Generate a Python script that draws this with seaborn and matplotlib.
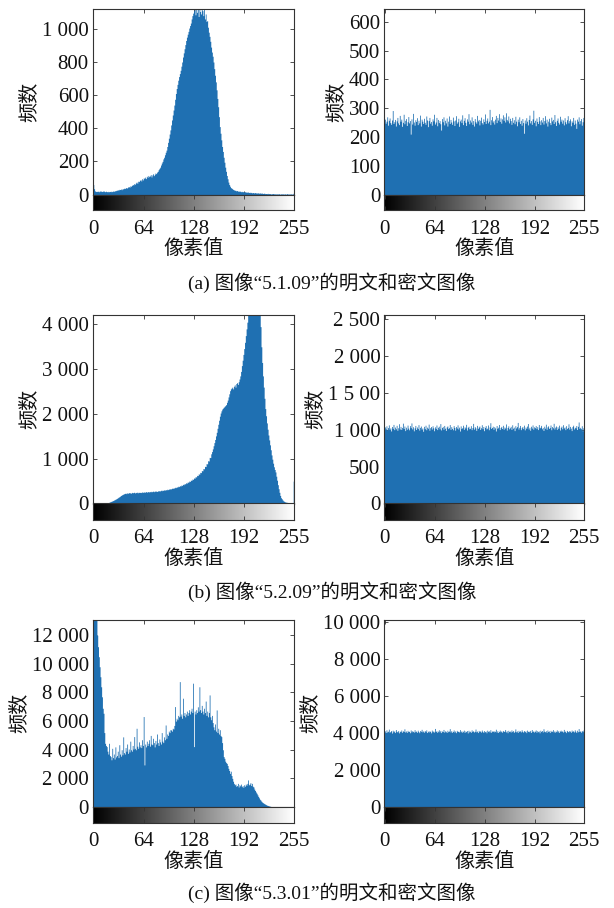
import numpy as np
import seaborn as sns
import matplotlib
matplotlib.use("Agg")
import matplotlib.pyplot as plt

# grey levels 0..255
levels = np.arange(256)

# 5.1.09 plain image histogram
plain_a = [
    60, 35, 22, 18, 20, 18, 20, 17, 22, 19,
    21, 18, 20, 22, 19, 17, 20, 18, 16, 19,
    17, 18, 20, 17, 19, 21, 19, 23, 22, 25,
    26, 28, 27, 31, 30, 33, 29, 35, 34, 38,
    36, 40, 42, 39, 45, 48, 44, 52, 50, 55,
    60, 58, 66, 62, 70, 75, 68, 80, 78, 85,
    90, 82, 95, 88, 100, 98, 105, 96, 110, 104,
    115, 108, 112, 120, 106, 118, 125, 114, 122, 130,
    126, 135, 140, 150, 158, 165, 178, 190, 200, 215,
    225, 240, 255, 268, 290, 315, 340, 365, 390, 420,
    450, 480, 510, 540, 575, 610, 640, 665, 690, 712,
    730, 750, 775, 800, 830, 855, 880, 905, 930, 950,
    968, 985, 1005, 1020, 1035, 1060, 1080, 1095, 1110, 1150,
    1085, 1160, 1100, 1140, 1075, 1170, 1105, 1090, 1150, 1110,
    1080, 1130, 1060, 1090, 1045, 1050, 1010, 980, 955, 925,
    890, 860, 835, 800, 760, 720, 680, 632, 580, 530,
    470, 410, 370, 330, 290, 260, 225, 195, 165, 140,
    115, 95, 75, 60, 50, 42, 38, 35, 30, 28,
    26, 25, 22, 24, 20, 22, 18, 21, 17, 19,
    16, 18, 15, 17, 14, 16, 13, 15, 12, 14,
    11, 13, 10, 12, 11, 9, 12, 10, 8, 11,
    9, 8, 10, 7, 9, 8, 6, 8, 7, 5,
    6, 5, 7, 4, 6, 5, 3, 5, 4, 6,
    4, 3, 5, 2, 4, 3, 5, 3, 2, 4,
    3, 5, 2, 3, 4, 2, 3, 6, 2, 3,
    2, 4, 3, 2, 3, 8,
]

# 5.1.09 cipher image histogram
cipher_a = [
    262, 248, 255, 270, 241, 258, 266, 250, 244, 259,
    292, 247, 253, 261, 238, 256, 268, 249, 243, 275,
    255, 262, 237, 251, 279, 246, 258, 264, 240, 253,
    271, 249, 257, 210, 263, 245, 282, 252, 241, 260,
    254, 267, 243, 258, 249, 276, 238, 262, 255, 247,
    265, 251, 244, 273, 259, 236, 257, 268, 248, 254,
    241, 263, 256, 279, 245, 252, 268, 239, 261, 250,
    257, 246, 224, 264, 253, 270, 242, 258, 249, 266,
    238, 255, 273, 247, 261, 252, 244, 269, 256, 240,
    259, 274, 248, 253, 265, 237, 256, 262, 250, 277,
    243, 258, 267, 251, 240, 263, 255, 281, 246, 259,
    252, 270, 244, 257, 238, 264, 253, 248, 275, 256,
    261, 242, 258, 269, 250, 245, 263, 254, 280, 247,
    258, 266, 249, 255, 296, 243, 260, 271, 252, 257,
    245, 262, 275, 250, 268, 259, 281, 254, 266, 248,
    263, 277, 258, 270, 252, 284, 261, 256, 273, 249,
    265, 257, 244, 268, 251, 260, 246, 272, 255, 239,
    262, 253, 270, 247, 258, 241, 264, 250, 213, 259,
    248, 267, 255, 242, 261, 276, 249, 257, 244, 263,
    293, 251, 258, 239, 266, 254, 247, 271, 256, 243,
    260, 252, 268, 245, 257, 274, 249, 262, 238, 255,
    265, 250, 243, 269, 256, 261, 247, 278, 253, 240,
    258, 266, 251, 245, 272, 255, 262, 248, 259, 242,
    267, 253, 246, 260, 274, 249, 257, 263, 239, 256,
    251, 268, 244, 259, 248, 230, 262, 255, 270, 246,
    257, 264, 241, 253, 268, 259,
]

# 5.2.09 plain image histogram
plain_b = [
    0, 0, 0, 0, 0, 0, 0, 0, 0, 0,
    0, 1, 1, 2, 3, 5, 8, 12, 16, 22,
    28, 35, 42, 50, 58, 66, 75, 85, 95, 105,
    115, 128, 140, 152, 165, 178, 190, 200, 210, 218,
    225, 232, 220, 238, 228, 245, 235, 240, 230, 248,
    238, 245, 252, 236, 248, 242, 255, 240, 250, 246,
    252, 244, 258, 248, 262, 250, 256, 266, 254, 260,
    268, 258, 264, 272, 260, 270, 276, 264, 280, 272,
    278, 268, 284, 276, 290, 280, 296, 286, 300, 292,
    305, 298, 312, 302, 318, 310, 325, 318, 334, 326,
    342, 336, 350, 345, 362, 355, 372, 366, 385, 378,
    398, 390, 412, 405, 428, 420, 445, 438, 462, 455,
    480, 474, 500, 494, 522, 516, 545, 540, 570, 566,
    598, 594, 628, 624, 660, 656, 695, 690, 735, 730,
    780, 775, 830, 825, 890, 885, 955, 950, 1030, 1025,
    1110, 1160, 1220, 1290, 1360, 1430, 1510, 1590, 1680, 1770,
    1860, 1950, 2020, 2070, 2110, 2130, 2150, 2170, 2190, 2210,
    2260, 2310, 2380, 2450, 2520, 2560, 2580, 2600, 2560, 2620,
    2650, 2600, 2680, 2700, 2660, 2720, 2780, 2850, 2950, 3080,
    3200, 3330, 3460, 3600, 3750, 3900, 4050, 4300, 4450, 4600,
    4700, 4800, 4850, 4900, 4950, 4900, 4850, 4800, 4750, 4650,
    4550, 4450, 4300, 3950, 3500, 3150, 2850, 2600, 2350, 2120,
    1960, 1800, 1660, 1530, 1420, 1310, 1200, 1085, 990, 900,
    820, 760, 705, 610, 520, 420, 330, 250, 180, 130,
    107, 80, 60, 48, 38, 32, 28, 25, 22, 20,
    18, 15, 14, 12, 10, 500,
]

# 5.2.09 cipher image histogram
cipher_b = [
    1040, 1012, 1055, 998, 1031, 1068, 1009, 1027, 985, 1046,
    1021, 1074, 1003, 1038, 1015, 1062, 994, 1029, 1083, 1011,
    1047, 1006, 1033, 1091, 1019, 1052, 990, 1036, 1008, 1065,
    1024, 1001, 1058, 1030, 1094, 1013, 1042, 987, 1027, 1060,
    1005, 1039, 1018, 1071, 997, 1034, 1052, 1010, 1026, 981,
    1048, 1016, 1063, 1002, 1037, 1022, 1078, 995, 1030, 1045,
    1011, 1056, 1028, 988, 1041, 1019, 1066, 1004, 1035, 1050,
    1014, 1085, 999, 1032, 1047, 1008, 1060, 1023, 992, 1039,
    1053, 1017, 1029, 1072, 1006, 1044, 1020, 1001, 1058, 1033,
    996, 1046, 1025, 1068, 1012, 1037, 984, 1054, 1018, 1030,
    1063, 1007, 1041, 1026, 1075, 998, 1035, 1049, 1015, 1022,
    1057, 1003, 1031, 1088, 1010, 1044, 1027, 993, 1061, 1020,
    1038, 1052, 1005, 1029, 1070, 1016, 1046, 989, 1034, 1058,
    1013, 1024, 1066, 1002, 1040, 1097, 1019, 1032, 1050, 1008,
    1043, 1027, 985, 1059, 1021, 1036, 1073, 1004, 1031, 1047,
    1018, 1062, 1009, 1039, 1025, 1080, 997, 1033, 1055, 1014,
    1028, 1048, 1006, 1069, 1022, 1037, 990, 1057, 1026, 1043,
    1101, 1011, 1034, 1060, 1003, 1029, 1046, 1017, 1064, 1000,
    1038, 1021, 1052, 1086, 1012, 1035, 995, 1049, 1024, 1067,
    1009, 1041, 1030, 1058, 1016, 1044, 1004, 1073, 1027, 1036,
    1061, 1015, 1033, 992, 1050, 1023, 1077, 1008, 1040, 1055,
    1019, 1031, 1066, 1002, 1045, 1028, 1089, 1011, 1037, 1053,
    1006, 1042, 1021, 1064, 998, 1035, 1051, 1014, 1070, 1026,
    1039, 1003, 1057, 1018, 1032, 1082, 1010, 1047, 1023, 990,
    1044, 1063, 1012, 1036, 1027, 1059, 1005, 1048, 1107, 1020,
    1034, 1015, 1056, 988, 1029, 945,
]

# 5.3.01 plain image histogram
plain_c = [
    16000, 15500, 14800, 13800, 13200, 12000, 11200, 10500, 9800, 9100,
    8400, 7700, 6900, 6550, 5200, 4450, 4300, 4220, 3900, 3700,
    4450, 3600, 3520, 3300, 4100, 3450, 3700, 3350, 4200, 3500,
    3600, 3900, 3450, 4350, 3700, 3550, 4000, 3650, 4900, 3800,
    3700, 4150, 3900, 4400, 3750, 4050, 3850, 4600, 4000, 3900,
    4300, 4050, 4920, 4100, 4000, 5500, 4250, 4100, 4550, 4200,
    4350, 4150, 4700, 4300, 6320, 2940, 4400, 4200, 4600, 4300,
    4450, 4700, 4250, 5000, 4400, 4350, 4800, 4500, 4200, 4650,
    4400, 5100, 4500, 4300, 4750, 4550, 4400, 5200, 4600, 4500,
    4900, 4700, 5730, 4800, 5100, 5000, 5300, 5200, 5400, 5385,
    5300, 5500, 5450, 5700, 7016, 6000, 6200, 6100, 6400, 6300,
    8760, 6350, 6500, 6200, 7600, 6400, 6600, 6300, 6500, 6700,
    6400, 6600, 6800, 6500, 6700, 6900, 6600, 8650, 4220, 6700,
    6500, 6800, 6600, 7000, 6700, 8400, 6800, 6600, 7100, 6700,
    6500, 6900, 6600, 7400, 6400, 6700, 6300, 6600, 7830, 6300,
    6100, 6400, 5900, 5600, 5400, 5800, 5300, 6780, 5200, 5500,
    5100, 5400, 5000, 4920, 4500, 4000, 3520, 3400, 3200, 3100,
    3050, 2900, 2700, 2550, 2350, 2500, 2200, 2000, 1800, 1650,
    1550, 1600, 1450, 1500, 1650, 1400, 1550, 1480, 1600, 1420,
    1500, 1380, 1550, 1450, 1600, 1520, 1650, 1890, 1550, 1600,
    1700, 1500, 1650, 1450, 1400, 1250, 1150, 1050, 960, 850,
    740, 640, 540, 480, 400, 340, 300, 260, 230, 190,
    160, 130, 110, 90, 70, 55, 40, 25, 15, 10,
    8, 5, 3, 2, 1, 0, 0, 0, 0, 0,
    0, 0, 0, 0, 0, 0, 0, 0, 0, 0,
    0, 0, 0, 0, 0, 0,
]

# 5.3.01 cipher image histogram
cipher_c = [
    4120, 4035, 4178, 4062, 4101, 4215, 4048, 4087, 4140, 4003,
    4156, 4072, 4118, 4029, 4193, 4095, 4061, 4134, 4012, 4107,
    4079, 4168, 4044, 4125, 4090, 4231, 4058, 4113, 4037, 4149,
    4082, 4102, 4020, 4171, 4066, 4129, 4094, 4052, 4187, 4076,
    4110, 4041, 4158, 4085, 4023, 4136, 4098, 4204, 4069, 4117,
    4047, 4142, 4081, 4175, 4031, 4106, 4060, 4127, 4093, 4014,
    4163, 4074, 4119, 4055, 4252, 4088, 4130, 4039, 4104, 4181,
    4067, 4145, 4027, 4112, 4083, 4198, 4050, 4121, 4097, 4034,
    4154, 4078, 4109, 4241, 4063, 4133, 4042, 4091, 4170, 4057,
    4116, 4025, 4148, 4086, 4105, 4064, 4189, 4073, 4124, 4046,
    4099, 4161, 4036, 4115, 4080, 4137, 4011, 4152, 4068, 4103,
    4043, 4176, 4089, 4128, 4058, 4097, 4220, 4071, 4111, 4030,
    4147, 4084, 4122, 4053, 4166, 4092, 4038, 4135, 4077, 4108,
    4019, 4159, 4096, 4126, 4061, 4184, 4045, 4114, 4087, 4139,
    4070, 4101, 4210, 4056, 4131, 4033, 4093, 4164, 4075, 4118,
    4049, 4143, 4085, 4106, 4196, 4066, 4123, 4021, 4153, 4090,
    4110, 4059, 4173, 4082, 4135, 4040, 4098, 4226, 4072, 4116,
    4034, 4150, 4088, 4127, 4063, 4181, 4097, 4052, 4138, 4079,
    4119, 4026, 4162, 4094, 4108, 4068, 4145, 4037, 4192, 4084,
    4125, 4056, 4101, 4171, 4045, 4132, 4078, 4113, 4016, 4157,
    4089, 4140, 4060, 4235, 4103, 4074, 4128, 4041, 4167, 4092,
    4115, 4031, 4149, 4083, 4106, 4188, 4064, 4121, 4050, 4097,
    4174, 4071, 4134, 4039, 4110, 4158, 4087, 4124, 4057, 4201,
    4080, 4117, 4028, 4146, 4093, 4069, 4137, 4104, 4044, 4165,
    4086, 4129, 4062, 4178, 4100, 4035, 4155, 4076, 4246, 4091,
    4118, 4047, 4139, 4081, 4160, 4030,
]

# axis settings per panel
ymax_list = [1120, 645, 4210, 2560, 13100, 10150]
yticks_list = [
    [0, 200, 400, 600, 800, 1000],
    [0, 100, 200, 300, 400, 500, 600],
    [0, 1000, 2000, 3000, 4000],
    [0, 500, 1000, 1500, 2000, 2500],
    [0, 2000, 4000, 6000, 8000, 10000, 12000],
    [0, 2000, 4000, 6000, 8000, 10000],
]
ylabels_list = [
    ["0", "200", "400", "600", "800", "1 000"],
    ["0", "100", "200", "300", "400", "500", "600"],
    ["0", "1 000", "2 000", "3 000", "4 000"],
    ["0", "500", "1 000", "1 5 00", "2 000", "2 500"],
    ["0", "2 000", "4 000", "6 000", "8 000", "10 000", "12 000"],
    ["0", "2 000", "4 000", "6 000", "8 000", "10 000"],
]
xticks = [0, 64, 128, 192, 255]
captions = [
    "(a) 图像“5.1.09”的明文和密文图像",
    "(b) 图像“5.2.09”的明文和密文图像",
    "(c) 图像“5.3.01”的明文和密文图像",
]
series = [plain_a, cipher_a, plain_b, cipher_b, plain_c, cipher_c]
for s in series:
    assert len(s) == 256

sns.set_theme(style="white")
plt.rcParams['font.family'] = ['Liberation Serif', 'Noto Sans CJK SC', 'DejaVu Sans']
plt.rcParams['axes.edgecolor'] = '#333333'
plt.rcParams['axes.linewidth'] = 0.8

BLUE = "#1f70b2"
W, H = 614, 908
fig = plt.figure(figsize=(W / 100, H / 100), dpi=100)

col_x = [93, 384.5]
col_w = [201, 200]
rows = [(9, 194.5, 210), (315, 503.5, 519.5), (619.5, 807, 822.5)]
cap_y = [283, 592, 893]


def rect(x, w, top, bottom):
    return [x / W, 1 - bottom / H, w / W, (bottom - top) / H]


gradient = levels.reshape(1, -1)

for r, (top, mid, bot) in enumerate(rows):
    for c in range(2):
        i = r * 2 + c
        ax = fig.add_axes(rect(col_x[c], col_w[c], top, mid))
        cb = fig.add_axes(rect(col_x[c], col_w[c], mid, bot))

        sns.histplot(x=levels, weights=series[i], discrete=True, element="step",
                     fill=True, color=BLUE, alpha=1, linewidth=0, ax=ax)
        ax.set_xlim(-0.5, 255.5)
        ax.set_ylim(0, ymax_list[i])
        ax.set_xticks(xticks)
        ax.set_xticklabels([])
        ax.set_yticks(yticks_list[i])
        ax.set_yticklabels(ylabels_list[i])
        ax.tick_params(axis='both', direction='in', length=3, width=0.6,
                       top=True, right=True, bottom=True, left=True,
                       labelsize=15, colors='#333333', labelcolor='#111111', pad=3)
        ax.set_xlabel("")
        ax.set_ylabel("频数", fontsize=14.5, labelpad=2, color='#111111')

        cb.imshow(gradient, cmap="gray", aspect="auto",
                  extent=[-0.5, 255.5, 0, 1])
        cb.set_xlim(-0.5, 255.5)
        cb.set_yticks([])
        cb.set_xticks(xticks)
        cb.set_xticklabels([str(t) for t in xticks])
        cb.tick_params(axis='x', direction='in', length=3, width=0.6,
                       top=True, bottom=True, labelsize=15,
                       colors='#333333', labelcolor='#111111', pad=7)
        cb.set_xlabel("像素值", fontsize=14.5, labelpad=1, color='#111111')

    fig.text(332 / W, 1 - cap_y[r] / H, captions[r], ha='center', va='center',
             fontsize=14, color='#111111')

fig.savefig("out.png", dpi=100)
